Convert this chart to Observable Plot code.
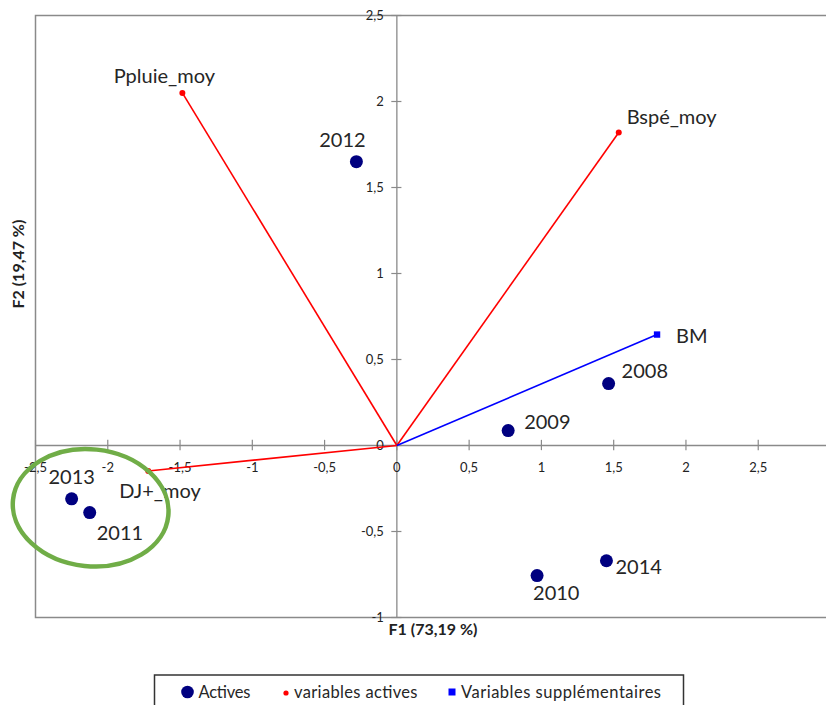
<!DOCTYPE html>
<html>
<head>
<meta charset="utf-8">
<script src="https://cdn.jsdelivr.net/npm/d3@7"></script>
<script src="https://cdn.jsdelivr.net/npm/@observablehq/plot@0.6"></script>
<style>
  html, body { margin: 0; padding: 0; background: #fff; overflow: hidden; width: 826px; height: 705px; }
  #wrap { position: relative; width: 826px; height: 705px; font-family: Lato, "Open Sans", sans-serif; }
  #chart svg { max-width: none !important; display: block; }
  #legend { position: absolute; left: 0; top: 660px; }
</style>
</head>
<body>
<div id="wrap"><div id="chart"></div><svg id="legend" width="826" height="45"></svg></div>
<script>
// ---- data ----
const years = ["2008", "2009", "2010", "2011", "2012", "2013", "2014"];
const activeF1 = [1.465, 0.77, 0.97, -2.125, -0.28, -2.25, 1.45];
const activeF2 = [0.36, 0.087, -0.756, -0.39, 1.65, -0.31, -0.67];

const varNames = ["Ppluie_moy", "Bspé_moy", "DJ+_moy"];
const varF1 = [-1.484, 1.535, -1.72];
const varF2 = [2.05, 1.82, -0.148];

const suppNames = ["BM"];
const suppF1 = [1.8];
const suppF2 = [0.645];

const xTicks = [-2.5, -2, -1.5, -1, -0.5, 0, 0.5, 1, 1.5, 2, 2.5, 3];
const yTicks = [-1, -0.5, 0, 0.5, 1, 1.5, 2, 2.5];

const xTitle = "F1 (73,19 %)";
const yTitle = "F2 (19,47 %)";
const legendLabels = ["Actives", "variables actives", "Variables supplémentaires"];

// highlighted group (2011, 2013) — ellipse in data units
const groupCenter = [-2.115, -0.365];
const groupRadii = [0.54, 0.34];

// ---- tables ----
const actives = years.map((n, i) => ({name: n, x: activeF1[i], y: activeF2[i]}));
const vars = varNames.map((n, i) => ({name: n, x: varF1[i], y: varF2[i]}));
const supps = suppNames.map((n, i) => ({name: n, x: suppF1[i], y: suppF2[i]}));

// label placement (layout only)
const labelLayout = {
  "2012": {dx: -14, dy: -21, anchor: "middle"},
  "2008": {dx: 13, dy: -12, anchor: "start"},
  "2009": {dx: 16, dy: -8, anchor: "start"},
  "2010": {dx: -4, dy: 18, anchor: "start"},
  "2014": {dx: 9, dy: 7, anchor: "start"},
  "2013": {dx: 0, dy: -21, anchor: "middle"},
  "2011": {dx: 7, dy: 21, anchor: "start"},
  "Ppluie_moy": {dx: -18, dy: -16, anchor: "middle"},
  "Bspé_moy": {dx: 8, dy: -15, anchor: "start"},
  "DJ+_moy": {dx: -29, dy: 21, anchor: "start"},
  "BM": {dx: 19, dy: 2, anchor: "start"}
};

const fmt = v => String(v).replace(".", ",");
const labelFont = 20;
const labelColor = "#262626";
const axisGray = "#8a8a8a";

const labelMarks = [...actives, ...vars, ...supps].map(d => {
  const L = labelLayout[d.name];
  return Plot.text([d], {x: "x", y: "y", text: "name", dx: L.dx, dy: L.dy, textAnchor: L.anchor,
    fontSize: labelFont, fill: labelColor});
});

const plot = Plot.plot({
  width: 830,
  height: 660,
  marginLeft: 35,
  marginRight: 0,
  marginTop: 15,
  marginBottom: 43,
  x: {domain: [-2.5, 3], axis: null},
  y: {domain: [-1, 2.5], axis: null},
  style: {fontFamily: "Lato, sans-serif", background: "white", overflow: "visible", maxWidth: "none"},
  marks: [
    Plot.frame({stroke: axisGray, strokeWidth: 1.5}),
    Plot.ruleX([0], {stroke: axisGray, strokeWidth: 1.3}),
    Plot.ruleY([0], {stroke: axisGray, strokeWidth: 1.3}),
    Plot.ruleX(xTicks, {x: d => d, y1: -0.03, y2: 0.03, stroke: axisGray, strokeWidth: 1.2}),
    Plot.ruleY(yTicks, {y: d => d, x1: -0.035, x2: 0.035, stroke: axisGray, strokeWidth: 1.2}),
    Plot.text(xTicks, {x: d => d, y: 0, dy: 22, text: fmt, fontSize: 13, fill: "#222"}),
    Plot.text(yTicks, {x: 0, y: d => d, dx: -13, text: fmt, textAnchor: "end", fontSize: 13, fill: "#222"}),
    Plot.link(vars, {x1: 0, y1: 0, x2: "x", y2: "y", stroke: "#ff0000", strokeWidth: 1.6}),
    Plot.link(supps, {x1: 0, y1: 0, x2: "x", y2: "y", stroke: "#0000ff", strokeWidth: 1.6}),
    Plot.dot(vars, {x: "x", y: "y", r: 3, fill: "#ff0000"}),
    Plot.dot(supps, {x: "x", y: "y", r: 3.6, symbol: "square", fill: "#0000ff"}),
    Plot.dot(actives, {x: "x", y: "y", r: 6.5, fill: "#000080"}),
    ...labelMarks,
    Plot.text([xTitle], {frameAnchor: "bottom", dy: 17, text: d => d, fontWeight: "bold", fontSize: 16, fill: "#222"}),
    Plot.text([yTitle], {frameAnchor: "left", dx: -17, dy: -8, rotate: -90, text: d => d, fontWeight: "bold", fontSize: 16, fill: "#222"})
  ]
});

// ellipse annotation positioned through the plot's scales
const sx = plot.scale("x"), sy = plot.scale("y");
const cx = sx.apply(groupCenter[0]), cy = sy.apply(groupCenter[1]);
const rx = Math.abs(sx.apply(groupCenter[0] + groupRadii[0]) - cx);
const ry = Math.abs(sy.apply(groupCenter[1] + groupRadii[1]) - cy);
d3.select(plot).append("ellipse")
  .attr("cx", cx).attr("cy", cy).attr("rx", rx).attr("ry", ry)
  .attr("transform", `rotate(6 ${cx} ${cy})`)
  .attr("fill", "none").attr("stroke", "#70ad47").attr("stroke-width", 4.5);

document.getElementById("chart").appendChild(plot);

// legend
const lg = d3.select("#legend").style("font-family", "Lato, sans-serif");
lg.append("rect").attr("x", 154.5).attr("y", 15).attr("width", 529).attr("height", 40)
  .attr("fill", "white").attr("stroke", "#333").attr("stroke-width", 1.5);
const ty = 32;
lg.append("circle").attr("cx", 187.5).attr("cy", ty).attr("r", 6.3).attr("fill", "#000080");
lg.append("circle").attr("cx", 286).attr("cy", ty + 1).attr("r", 2.6).attr("fill", "#ff0000");
lg.append("rect").attr("x", 448.5).attr("y", ty - 3.5).attr("width", 7).attr("height", 7).attr("fill", "#0000ff");
const legendText = [
  {x: 198.5, w: 52},
  {x: 294, w: 123.5},
  {x: 461, w: 200}
];
legendText.forEach((t, i) => {
  lg.append("text").attr("x", t.x).attr("y", ty).attr("dy", "0.36em")
    .attr("font-size", 16.5).attr("fill", "#262626")
    .attr("textLength", t.w).attr("lengthAdjust", "spacing")
    .text(legendLabels[i]);
});
</script>
</body>
</html>
